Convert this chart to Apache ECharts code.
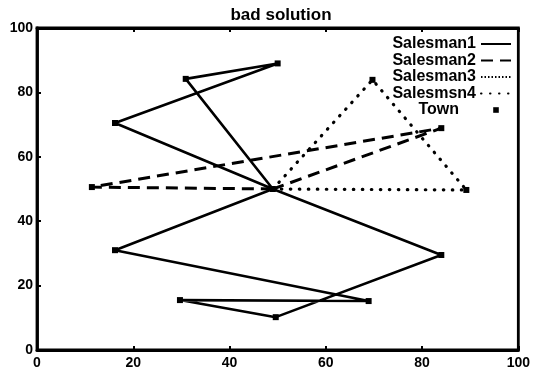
<!DOCTYPE html>
<html>
<head>
<meta charset="utf-8">
<script src="https://cdn.jsdelivr.net/npm/echarts@6/dist/echarts.min.js"></script>
<style>html,body{margin:0;padding:0;background:#fff;}#c{width:533px;height:376px;}</style>
</head>
<body>
<div id="c"></div>
<script>
const titleText = 'bad solution';
const seriesNames = ['Salesman1', 'Salesman2', 'Salesman3', 'Salesmsn4', 'Town'];
const xTicks = [0, 20, 40, 60, 80, 100];
const yTicks = [0, 20, 40, 60, 80, 100];
const salesman1 = [[49,50],[16.2,70.5],[50,89],[30.9,84.2],[49,50],[16.2,31],[68.9,15.2],[29.7,15.5],[49.6,10.2],[84,29.5],[49,50]];
const salesman2 = [[49,50],[11.4,50.6],[84,68.9],[49,50]];
const salesman3 = [];
const salesman4 = [[49,50],[69.7,83.9],[89.2,49.7],[49,50]];
const towns = [[49,50],[16.2,70.5],[50,89],[30.9,84.2],[16.2,31],[68.9,15.2],[29.7,15.5],[49.6,10.2],[84,29.5],[11.4,50.6],[84,68.9],[69.7,83.9],[89.2,49.7]];

const font = '"Liberation Sans", Arial, Helvetica, sans-serif';
const chart = echarts.init(document.getElementById('c'), null, {renderer: 'canvas'});
const hidden = {opacity: 0, color: 'rgba(0,0,0,0)', borderWidth: 0};
chart.setOption({
  animation: false,
  backgroundColor: '#fff',
  title: {text: titleText, left: 276, textAlign: 'center', top: 2,
    textStyle: {fontFamily: font, fontSize: 17, fontWeight: 'bold', color: '#000'}},
  grid: {left: 37, right: 14, top: 28, bottom: 26, show: true, borderColor: '#000', borderWidth: 2.8, backgroundColor: '#fff'},
  legend: {
    orient: 'vertical', right: 21, top: 36, padding: 0, itemGap: 0.5,
    align: 'right', itemWidth: 30, itemHeight: 7, selectedMode: false,
    data: [
      {name: seriesNames[0], itemStyle: hidden},
      {name: seriesNames[1], itemStyle: hidden},
      {name: seriesNames[2], itemStyle: hidden},
      {name: seriesNames[3], itemStyle: hidden},
      {name: seriesNames[4]}
    ],
    formatter: function (n) { return n === 'Town' ? '{t|' + n + '}' : n; },
    textStyle: {fontFamily: font, fontSize: 16, fontWeight: 'bold', lineHeight: 14, color: '#000',
      rich: {t: {fontFamily: font, fontSize: 16, fontWeight: 'bold', lineHeight: 14, color: '#000', padding: [0, 17, 0, 0]}}}
  },
  xAxis: [{
    type: 'value', min: xTicks[0], max: xTicks[xTicks.length - 1], interval: 20,
    axisLine: {lineStyle: {color: '#000', width: 2.8}},
    axisTick: {inside: true, length: 4, lineStyle: {color: '#000', width: 2}},
    splitLine: {show: false},
    axisLabel: {margin: 6, color: '#000', fontFamily: font, fontSize: 14, fontWeight: 'bold'}
  }, {
    type: 'value', position: 'top', min: xTicks[0], max: xTicks[xTicks.length - 1], interval: 20,
    axisLine: {lineStyle: {color: '#000', width: 2.8}},
    axisTick: {inside: true, length: 4, lineStyle: {color: '#000', width: 2}},
    splitLine: {show: false}, axisLabel: {show: false}
  }],
  yAxis: {
    type: 'value', min: yTicks[0], max: yTicks[yTicks.length - 1], interval: 20,
    axisLine: {lineStyle: {color: '#000', width: 2.8}},
    axisTick: {inside: true, length: 4, lineStyle: {color: '#000', width: 2}},
    splitLine: {show: false},
    axisLabel: {margin: 4, color: '#000', fontFamily: font, fontSize: 14, fontWeight: 'bold'}
  },
  series: [
    {name: seriesNames[0], type: 'line', data: salesman1, symbol: 'none', z: 3,
      lineStyle: {color: '#000', width: 2.6, type: 'solid'}},
    {name: seriesNames[1], type: 'line', data: salesman2, symbol: 'none', z: 3,
      lineStyle: {color: '#000', width: 3, type: [12, 7]}},
    {name: seriesNames[2], type: 'line', data: salesman3, symbol: 'none', z: 3,
      lineStyle: {color: '#000', width: 1.8, type: [1.5, 2]}},
    {name: seriesNames[3], type: 'line', data: salesman4, symbol: 'none', z: 3,
      lineStyle: {color: '#000', width: 3.2, type: [0.5, 8.5], cap: 'round'}},
    {name: seriesNames[4], type: 'line', data: towns, symbol: 'rect', symbolSize: 6, showSymbol: true, z: 4,
      itemStyle: {color: '#000'}, lineStyle: {width: 0, opacity: 0}}
  ]
});
</script>
</body>
</html>
